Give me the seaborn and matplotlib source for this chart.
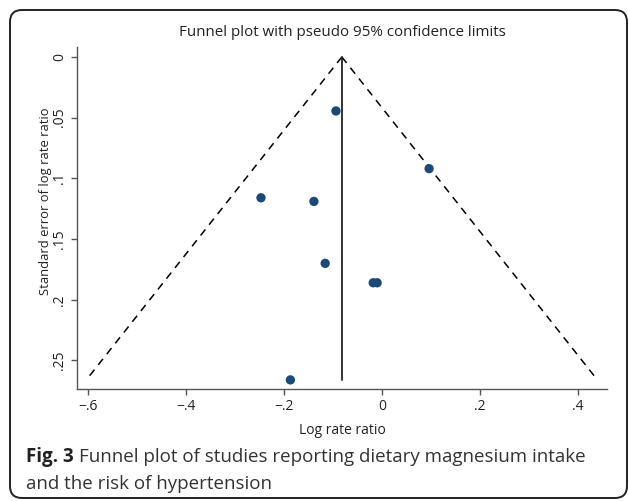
import numpy as np
import pandas as pd
import matplotlib
matplotlib.use("Agg")
import matplotlib.pyplot as plt
import seaborn as sns
from matplotlib.patches import FancyBboxPatch

# study estimates
log_rate_ratio = [-0.094, 0.096, -0.247, -0.139, -0.116, -0.018, -0.010, -0.187]
se_log_rr = [0.0445, 0.092, 0.116, 0.119, 0.170, 0.186, 0.186, 0.266]
pooled_estimate = -0.082

x_ticks = [-0.6, -0.4, -0.2, 0, 0.2, 0.4]
x_tick_labels = ["\u2212.6", "\u2212.4", "\u2212.2", "0", ".2", ".4"]
y_ticks = [0, 0.05, 0.1, 0.15, 0.2, 0.25]
y_tick_labels = ["0", ".05", ".1", ".15", ".2", ".25"]

df = pd.DataFrame({"log_rr": log_rate_ratio, "se": se_log_rr})

sns.set_style("white")
plt.rcParams["font.family"] = ["Open Sans", "DejaVu Sans"]

fig = plt.figure(figsize=(6.29, 5.01), dpi=100)
ax = fig.add_axes([77 / 629, 1 - 389 / 501, 530 / 629, 342 / 501])

# pseudo 95% confidence limits
se_max = df["se"].max()
se_line = np.array([0, se_max])
ax.plot(pooled_estimate - 1.96 * se_line, se_line, color="black", lw=1.1, ls=(0, (5, 4)))
ax.plot(pooled_estimate + 1.96 * se_line, se_line, color="black", lw=1.1, ls=(0, (5, 4)))
ax.plot([pooled_estimate, pooled_estimate], se_line, color="#222222", lw=1.3)

sns.scatterplot(data=df, x="log_rr", y="se", ax=ax, color="#1b4a7a", s=45,
                edgecolor="none", zorder=3)

ax.set_xlim(-0.6224, 0.459)
ax.set_ylim(0.2735, -0.0082)
ax.set_xticks(x_ticks)
ax.set_xticklabels(x_tick_labels)
ax.set_yticks(y_ticks)
ax.set_yticklabels(y_tick_labels, rotation=90, va="center")

for side in ["top", "right"]:
    ax.spines[side].set_visible(False)
for side in ["left", "bottom"]:
    ax.spines[side].set_color("#555555")
    ax.spines[side].set_linewidth(1.0)
ax.tick_params(axis="both", which="major", direction="out", length=4, width=1,
               color="#555555", labelsize=10, labelcolor="#222222",
               left=True, bottom=True)
ax.tick_params(axis="y", pad=3)
ax.tick_params(axis="x", pad=3)

ax.set_xlabel("Log rate ratio", fontsize=10, color="#222222")
ax.set_ylabel("Standard error of log rate ratio", fontsize=9.4, color="#222222")
ax.xaxis.set_label_coords(0.5, -0.098)
ax.yaxis.set_label_coords(-0.047, 0.55)

fig.text(342 / 629, 1 - 33 / 501, "Funnel plot with pseudo 95% confidence limits",
         ha="center", va="center", fontsize=10.9, color="#222222")

# caption
renderer = fig.canvas.get_renderer()
cap_x = 26 / 629
bold = fig.text(cap_x, 1 - 457 / 501, "Fig. 3", fontsize=13.5, fontweight="bold",
                ha="left", va="center", color="#222222")
bb = bold.get_window_extent(renderer=renderer)
fig.text((bb.x1 + 5) / fig.bbox.width, 1 - 457 / 501,
         "Funnel plot of studies reporting dietary magnesium intake",
         fontsize=13.5, ha="left", va="center", color="#333333")
fig.text(cap_x, 1 - 484 / 501, "and the risk of hypertension",
         fontsize=13.5, ha="left", va="center", color="#333333")

border = FancyBboxPatch((0.10, 0.03), 6.17, 4.88,
                        boxstyle="round,pad=0,rounding_size=0.12",
                        transform=fig.dpi_scale_trans, fill=False,
                        edgecolor="#222222", lw=1.4)
fig.patches.append(border)

fig.savefig("out.png", dpi=100)
